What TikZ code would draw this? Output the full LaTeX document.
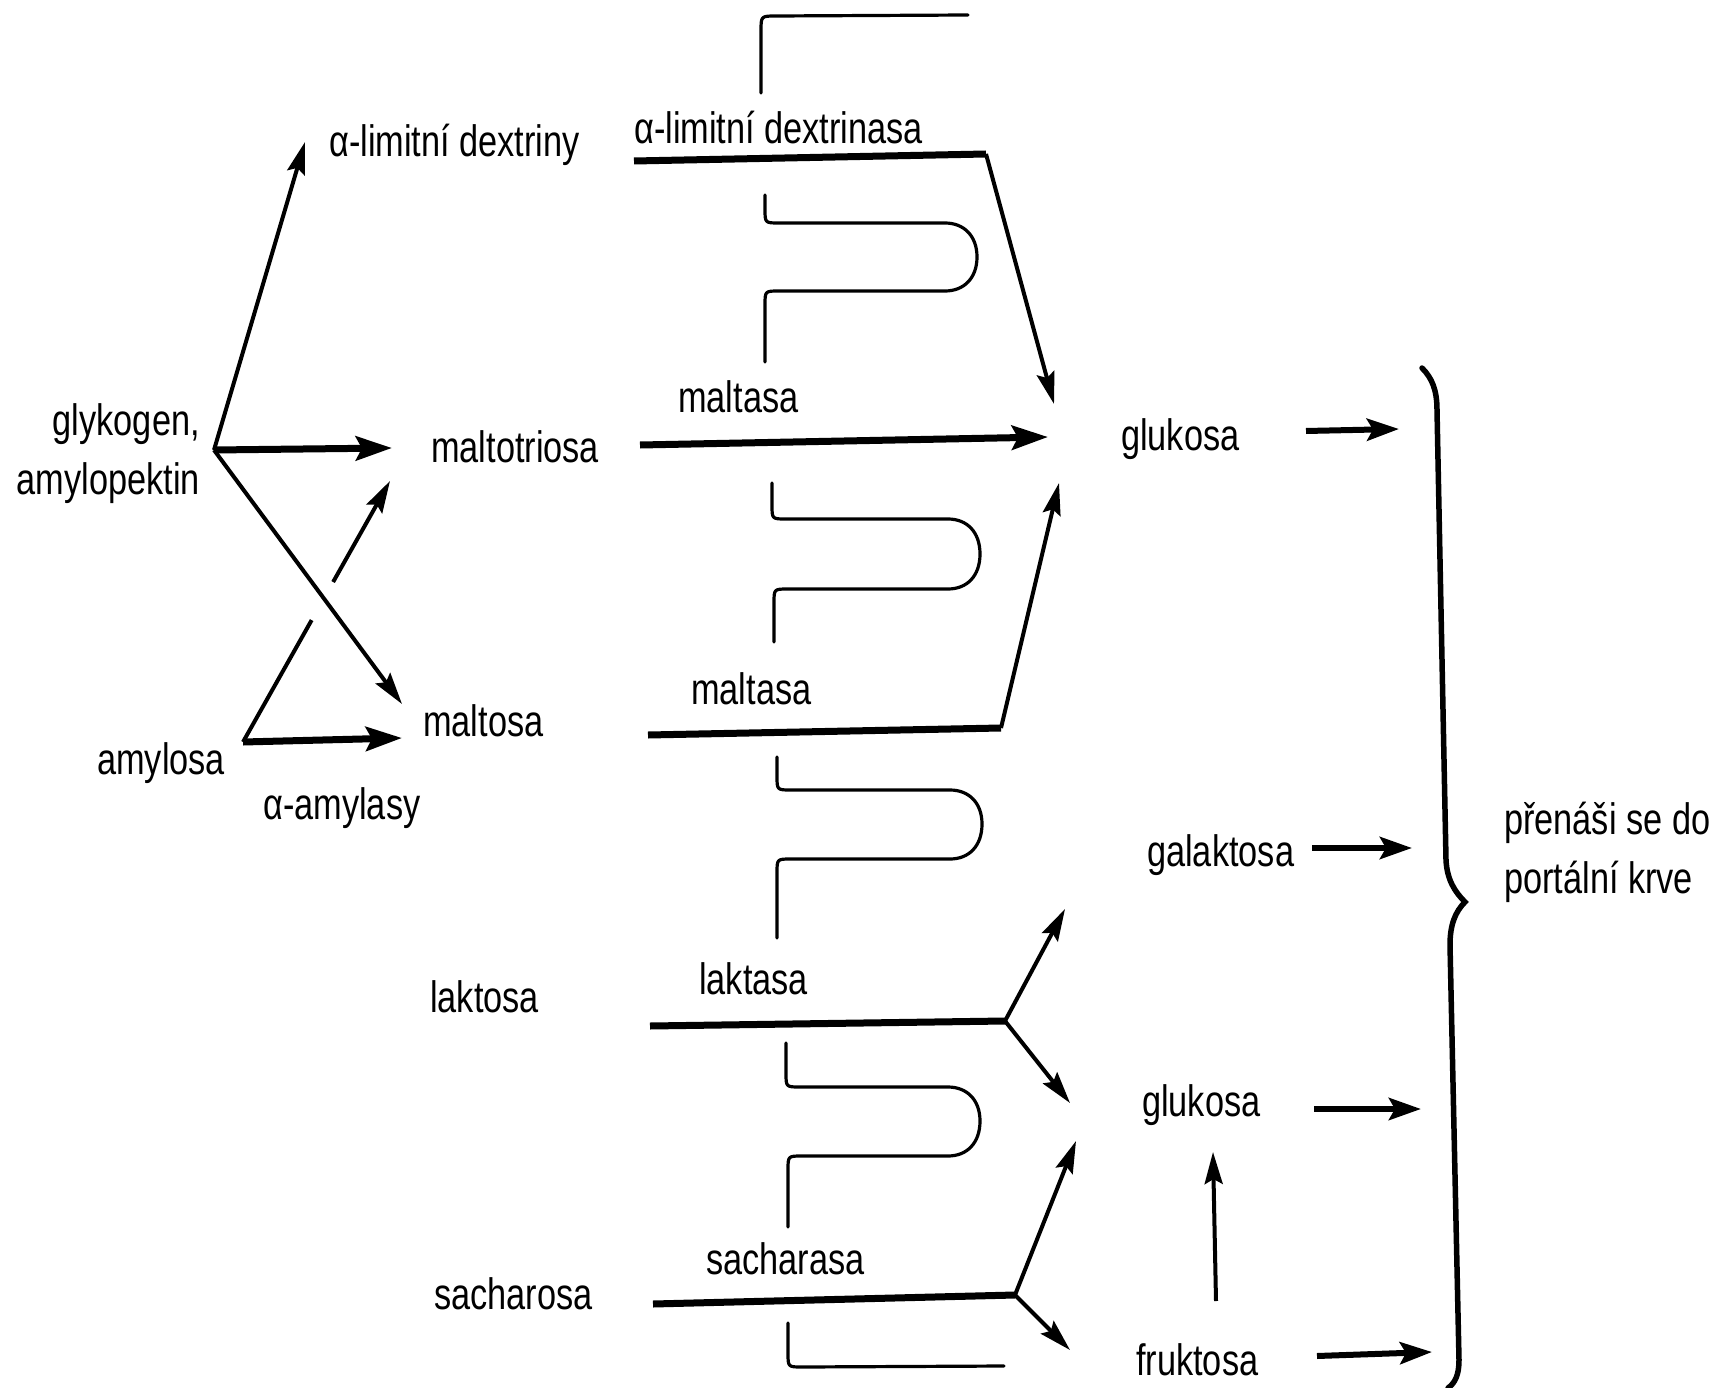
\documentclass[tikz,border=0pt]{standalone}
\usepackage{fontspec}
\setmainfont{Liberation Sans}[FakeStretch=0.78]
\usetikzlibrary{arrows.meta,calc}
\begin{document}
\begin{tikzpicture}[x=1pt,y=-1pt,
  lbl/.style={anchor=base west, inner sep=0pt, font=\fontsize{44}{59}\selectfont},
  rx/.style={line width=7pt, -{Stealth[length=36pt,width=24pt,inset=6pt]}},
  rxl/.style={line width=7pt},
  thinarr/.style={line width=4pt, -{Stealth[length=32pt,width=18pt,inset=5pt]}},
  outarr/.style={line width=6pt, -{Stealth[length=32pt,width=22pt,inset=6pt]}},
  vil/.style={line width=3.2pt, line cap=round, line join=round},
  bracestyle/.style={line width=5.5pt, line cap=round}]
\useasboundingbox (0,0) rectangle (1721,1388);

% texts
\node[lbl] (dextriny) at (329,157) {α-limitní dextriny};
\node[lbl] (dextrinasa) at (634,144) {α-limitní dextrinasa};
\node[lbl, anchor=base east, align=right] (glykogen) at (200,494) {glykogen,\\amylopektin};
\node[lbl] (maltotriosa) at (431,462) {maltotriosa};
\node[lbl] (maltasa1) at (678,412) {maltasa};
\node[lbl] (glukosa1) at (1121,450) {glukosa};
\node[lbl] (maltosa) at (423,736) {maltosa};
\node[lbl] (amylosa) at (97,774) {amylosa};
\node[lbl] (amylasy) at (263,819) {α-amylasy};
\node[lbl] (maltasa2) at (691,704) {maltasa};
\node[lbl] (galaktosa) at (1147,866) {galaktosa};
\node[lbl, align=left] (prenasi) at (1504,893) {přenáši se do\\portální krve};
\node[lbl] (laktosa) at (430,1012) {laktosa};
\node[lbl] (laktasa) at (699,994) {laktasa};
\node[lbl] (glukosa2) at (1142,1116) {glukosa};
\node[lbl] (sacharosa) at (434,1309) {sacharosa};
\node[lbl] (sacharasa) at (706,1274) {sacharasa};
\node[lbl] (fruktosa) at (1136,1375) {fruktosa};

% coordinates
\coordinate (G) at (214,450);
\coordinate (tDex) at (305,142);
\coordinate (tTri) at (392,448);
\coordinate (tMal) at (402,704);
\coordinate (A) at (243,742);
\coordinate (tAmH) at (402,738);
\coordinate (tAmD) at (390,481);

% left part
\draw[thinarr] (G) -- (tDex);
\draw[rx] (G) -- (tTri);
\draw[thinarr] (G) -- (tMal);
\draw[rx] (A) -- (tAmH);
\draw[line width=4pt] (A) -- ($(A)!0.467!(tAmD)$);
\draw[thinarr] ($(A)!0.613!(tAmD)$) -- (tAmD);

% enzyme lines
\coordinate (d0) at (634,161); \coordinate (d1) at (986,154); \coordinate (d2) at (1054,404);
\draw[rxl] (d0) -- (d1);
\draw[thinarr] (d1) -- (d2);
\coordinate (m0) at (640,445); \coordinate (m1) at (1048,437);
\draw[rx] (m0) -- (m1);
\coordinate (n0) at (648,735); \coordinate (n1) at (1001,728); \coordinate (n2) at (1059,483);
\draw[rxl] (n0) -- (n1);
\draw[thinarr] (n1) -- (n2);
\coordinate (l0) at (650,1026); \coordinate (l1) at (1005,1021);
\coordinate (l2) at (1065,909); \coordinate (l3) at (1070,1103);
\draw[rxl] (l0) -- (l1);
\draw[thinarr] (l1) -- (l2);
\draw[thinarr] (l1) -- (l3);
\coordinate (s0) at (653,1304); \coordinate (s1) at (1015,1295);
\coordinate (s2) at (1076,1141); \coordinate (s3) at (1070,1350);
\draw[rxl] (s0) -- (s1);
\draw[thinarr] (s1) -- (s2);
\draw[thinarr] (s1) -- (s3);
\coordinate (f0) at (1216,1301); \coordinate (f1) at (1213,1152);
\draw[thinarr] (f0) -- (f1);

% outgoing arrows
\coordinate (o1a) at (1306,431); \coordinate (o1b) at (1399,429);
\coordinate (o2a) at (1312,848); \coordinate (o2b) at (1412,848);
\coordinate (o3a) at (1314,1109); \coordinate (o3b) at (1421,1109);
\coordinate (o4a) at (1317,1356); \coordinate (o4b) at (1432,1352);
\draw[outarr] (o1a) -- (o1b);
\draw[outarr] (o2a) -- (o2b);
\draw[outarr] (o3a) -- (o3b);
\draw[outarr] (o4a) -- (o4b);

% villi
\draw[vil] (968,15) -- (776,16) .. controls (761,16) .. (761,31) -- (761,93);
\draw[vil] (765,195) -- (765,209) .. controls (765,223) .. (779,223) -- (945,223)
  .. controls (964,223) and (977,236) .. (977,257)
  .. controls (977,278) and (964,291) .. (945,291) -- (779,291)
  .. controls (765,291) .. (765,305) -- (765,362);
\draw[vil] (772,483) -- (772,505) .. controls (772,519) .. (786,519) -- (948,519)
  .. controls (967,519) and (980,532) .. (980,554)
  .. controls (980,576) and (967,589) .. (948,589) -- (788,589)
  .. controls (774,589) .. (774,603) -- (774,642);
\draw[vil] (777,757) -- (777,776) .. controls (777,790) .. (791,790) -- (950,790)
  .. controls (969,790) and (982,803) .. (982,824)
  .. controls (982,846) and (969,859) .. (950,859) -- (791,859)
  .. controls (777,859) .. (777,873) -- (777,938);
\draw[vil] (786,1043) -- (786,1073) .. controls (786,1087) .. (800,1087) -- (948,1087)
  .. controls (967,1087) and (980,1100) .. (980,1121)
  .. controls (980,1143) and (967,1156) .. (948,1156) -- (802,1156)
  .. controls (788,1156) .. (788,1170) -- (788,1227);
\draw[vil] (788,1323) -- (788,1353) .. controls (788,1367) .. (802,1367) -- (1004,1366);

% brace
\draw[bracestyle] (1422,368) .. controls (1432,378) and (1437,390) .. (1437,410)
  -- (1446,860) .. controls (1447,880) and (1455,892) .. (1465,902)
  .. controls (1455,912) and (1450,925) .. (1450,945)
  -- (1459,1360) .. controls (1459,1375) and (1455,1383) .. (1448,1388);
\end{tikzpicture}
\end{document}
